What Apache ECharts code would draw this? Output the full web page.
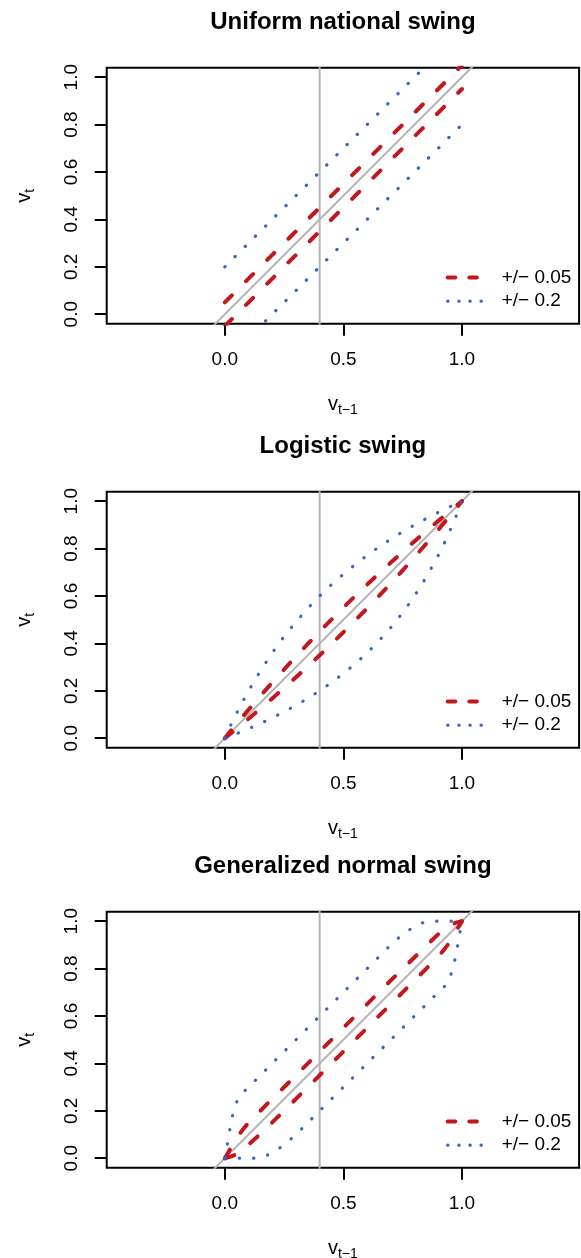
<!DOCTYPE html>
<html><head><meta charset="utf-8">
<script src="https://cdn.jsdelivr.net/npm/echarts@6/dist/echarts.min.js"></script>
<style>html,body{margin:0;padding:0;background:#fff;}#c{width:581px;height:1258px;}</style>
</head><body><div id="c"></div>
<script>
// ---------- text ----------
const titles = ['Uniform national swing', 'Logistic swing', 'Generalized normal swing'];
const legendLabels = ['+/\u2212 0.05', '+/\u2212 0.2'];
const xTicks = [0, 0.5, 1];
const yTicks = [0, 0.2, 0.4, 0.6, 0.8, 1];

// ---------- reference lines ----------
const refVertical = 0.4;          // vertical grey line at v_{t-1} = 0.4
const diagonal = [-1, 2];         // grey y = x line endpoints (clipped by the plot box)

// ---------- panel 1: uniform national swing ----------
const unifX    = [0, 1];
const unifUp05 = [0.05, 1.05];
const unifDn05 = [-0.05, 0.95];
const unifUp20 = [0.2, 1.2];
const unifDn20 = [-0.2, 0.8];

// ---------- panel 2: logistic swing ----------
const logX    = [0, 0.025, 0.05, 0.075, 0.1, 0.15, 0.2, 0.25, 0.3, 0.35, 0.4, 0.45, 0.5, 0.55, 0.6, 0.65, 0.7, 0.75, 0.8, 0.85, 0.9, 0.925, 0.95, 0.975, 1];
const logUp05 = [0, 0.031, 0.061, 0.091, 0.12, 0.178, 0.235, 0.29, 0.345, 0.398, 0.45, 0.501, 0.551, 0.6, 0.648, 0.695, 0.741, 0.786, 0.831, 0.874, 0.917, 0.938, 0.959, 0.98, 1];
const logDn05 = [0, 0.02, 0.041, 0.062, 0.082, 0.125, 0.168, 0.212, 0.257, 0.303, 0.35, 0.398, 0.447, 0.497, 0.548, 0.6, 0.653, 0.708, 0.764, 0.821, 0.879, 0.909, 0.939, 0.969, 1];
const logUp20 = [0, 0.055, 0.106, 0.154, 0.2, 0.284, 0.36, 0.429, 0.491, 0.548, 0.6, 0.648, 0.692, 0.733, 0.771, 0.807, 0.84, 0.871, 0.9, 0.927, 0.953, 0.965, 0.977, 0.989, 1];
const logDn20 = [0, 0.01, 0.019, 0.03, 0.04, 0.062, 0.086, 0.111, 0.139, 0.168, 0.2, 0.235, 0.273, 0.314, 0.36, 0.411, 0.467, 0.529, 0.6, 0.68, 0.771, 0.822, 0.877, 0.936, 1];

// ---------- panel 3: generalized normal swing ([v_{t-1}, v_t]) ----------
const gnUp05 = [[0,0],[0.012,0.02],[0.025,0.042],[0.04,0.07],[0.06,0.1],[0.08,0.126],[0.1,0.149],[0.15,0.2],[0.2,0.25],[0.3,0.35],[0.4,0.45],[0.5,0.55],[0.6,0.65],[0.7,0.75],[0.8,0.848],[0.85,0.897],[0.9,0.945],[0.93,0.969],[0.95,0.982],[0.975,0.994],[1,1]];
const gnDn05 = [[0,0],[0.025,0.007],[0.05,0.017],[0.07,0.031],[0.1,0.057],[0.15,0.103],[0.2,0.151],[0.3,0.25],[0.4,0.35],[0.5,0.45],[0.6,0.55],[0.7,0.65],[0.8,0.75],[0.85,0.8],[0.9,0.851],[0.92,0.874],[0.94,0.9],[0.96,0.93],[0.975,0.958],[0.988,0.98],[1,1]];
const gnUp20 = [[0,0],[0.01,0.055],[0.021,0.12],[0.033,0.18],[0.05,0.237],[0.07,0.272],[0.09,0.29],[0.1,0.3],[0.2,0.4],[0.3,0.5],[0.4,0.6],[0.5,0.7],[0.6,0.8],[0.7,0.9],[0.75,0.945],[0.8,0.977],[0.83,0.992],[0.86,1],[1,1]];
const gnDn20 = [[0,0],[0.14,0],[0.17,0.008],[0.2,0.023],[0.25,0.055],[0.3,0.1],[0.4,0.2],[0.5,0.3],[0.6,0.4],[0.7,0.5],[0.8,0.6],[0.9,0.7],[0.91,0.71],[0.93,0.728],[0.95,0.763],[0.967,0.82],[0.979,0.88],[0.99,0.945],[1,1]];

// ---------- styling / layout ----------
const FONT = '"Liberation Sans", Arial, Helvetica, sans-serif';
const RED = '#c3171e', BLUE = '#3b64c4', GREY = '#b4b4b4', INK = '#000';
const PANEL_TOPS = [67.7, 491.7, 911.7];
const BOX = { left: 106.7, width: 472.4, height: 256 };
const X_RANGE = [-0.498, 1.494], Y_RANGE = [-0.04, 1.04];
const RED_DASH = [10, 20], BLUE_DOT = [0.3, 14.1];

const zip = (xs, ys) => xs.map((x, i) => [x, ys[i]]);
const panelSeries = [
  [zip(unifX, unifUp05), zip(unifX, unifDn05), zip(unifX, unifUp20), zip(unifX, unifDn20)],
  [zip(logX, logUp05), zip(logX, logDn05), zip(logX, logUp20), zip(logX, logDn20)],
  [gnUp05, gnDn05, gnUp20, gnDn20]
];

const grid = [], xAxis = [], yAxis = [], series = [], title = [], legend = [];
const richName = {
  v: { fontSize: 20, fontFamily: FONT, color: INK, lineHeight: 26 },
  s: { fontSize: 14, fontFamily: FONT, color: INK, padding: [11, 0, 0, 0], lineHeight: 15 }
};
const nameStyle = { fontSize: 20, fontFamily: FONT, color: INK, rich: richName };

PANEL_TOPS.forEach((top, i) => {
  grid.push({ left: BOX.left, top: top, width: BOX.width, height: BOX.height, show: true,
    borderColor: INK, borderWidth: 2, backgroundColor: 'transparent', containLabel: false, outerBoundsMode: 'none' });
  xAxis.push({ type: 'value', gridIndex: i, min: X_RANGE[0], max: X_RANGE[1], position: 'bottom',
    axisLine: { show: false, onZero: false }, splitLine: { show: false },
    axisTick: { show: true, customValues: xTicks, length: 12, lineStyle: { color: INK, width: 2 } },
    axisLabel: { customValues: xTicks, formatter: v => v.toFixed(1), margin: 27, fontSize: 19, fontFamily: FONT, color: INK },
    name: '{v|v}{s|t\u22121}', nameLocation: 'middle', nameGap: 68,
    nameTextStyle: nameStyle });
  yAxis.push({ type: 'value', gridIndex: i, min: Y_RANGE[0], max: Y_RANGE[1], position: 'left',
    axisLine: { show: false, onZero: false }, splitLine: { show: false },
    axisTick: { show: true, customValues: yTicks, length: 12, lineStyle: { color: INK, width: 2 } },
    axisLabel: { customValues: yTicks, formatter: v => v.toFixed(1), rotate: 90, margin: 25, fontSize: 19, fontFamily: FONT, color: INK },
    name: '{v|v}{s|t}', nameLocation: 'middle', nameRotate: 90, nameGap: 69,
    nameTextStyle: nameStyle });
  title.push({ text: titles[i], left: BOX.left + BOX.width / 2, textAlign: 'center', top: top - 57, padding: 0,
    textStyle: { fontSize: 24, fontWeight: 'bold', fontFamily: FONT, color: INK } });

  const common = { type: 'line', xAxisIndex: i, yAxisIndex: i, showSymbol: false, symbol: 'none',
    silent: true, clip: true, animation: false };
  series.push(Object.assign({}, common, { name: 'diag' + i, data: [[diagonal[0], diagonal[0]], [diagonal[1], diagonal[1]]],
    lineStyle: { color: GREY, width: 2 }, z: 1 }));
  series.push(Object.assign({}, common, { name: 'vert' + i, data: [[refVertical, diagonal[0]], [refVertical, diagonal[1]]],
    lineStyle: { color: GREY, width: 2 }, z: 1 }));
  const d = panelSeries[i];
  [[d[0], 0], [d[1], 0], [d[2], 1], [d[3], 1]].forEach(([data, k]) => {
    series.push(Object.assign({}, common, { name: legendLabels[k], data: data, z: 3,
      lineStyle: k === 0 ? { color: RED, width: 4, type: RED_DASH, cap: 'round' }
                         : { color: BLUE, width: 3.2, type: BLUE_DOT, cap: 'round' } }));
  });

  legend.push({ orient: 'vertical', left: 445.7, top: top + BOX.height - 55.7, padding: 0,
    itemWidth: 34, itemHeight: 14, itemGap: 4.7, selectedMode: false,
    textStyle: { fontSize: 19, fontFamily: FONT, color: INK, padding: [0, 0, 0, 15] },
    data: [
      { name: legendLabels[0], itemStyle: { opacity: 0 },
        lineStyle: { color: RED, width: 4, type: [7.6, 14], cap: 'round', opacity: 1 } },
      { name: legendLabels[1], itemStyle: { opacity: 0 },
        lineStyle: { color: BLUE, width: 3.2, type: [0.3, 10.8], cap: 'round', opacity: 1 } }
    ] });
});

const chart = echarts.init(document.getElementById('c'), null, { renderer: 'canvas' });
chart.setOption({
  animation: false, backgroundColor: '#fff', textStyle: { fontFamily: FONT },
  title, legend, grid, xAxis, yAxis, series, tooltip: { show: false }
});
</script></body></html>
